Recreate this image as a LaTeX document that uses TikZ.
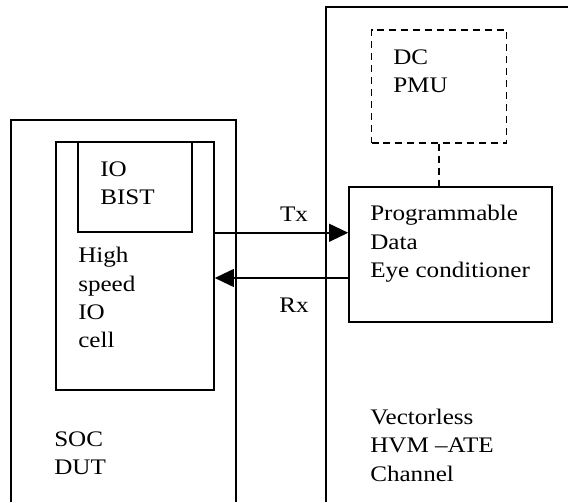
\documentclass[tikz,border=0pt]{standalone}
\usepackage{fontspec}
\setmainfont{Liberation Serif}[FakeStretch=1.13]
\usetikzlibrary{arrows.meta}

\tikzset{
    box/.style={draw, line width=1.1pt, inner sep=0pt},
    pmubox/.style={box, dash pattern=on 5pt off 3.5pt},
    boxtext/.style={anchor=base west, inner sep=0pt, align=left,
        font=\fontsize{15.8}{20.2}\selectfont},
    link/.style={line width=1.1pt, -{Triangle[length=0.48cm, width=0.45cm]}}
}

\begin{document}
\begin{tikzpicture}
    \useasboundingbox (0, 0) rectangle (14.2, 12.55);

    % The device under test, open at the bottom
    \draw[line width=1.1pt] (0.275, 0) -- (0.275, 9.55) -- (5.9, 9.55) -- (5.9, 0);
    \node[box, minimum width=3.95cm, minimum height=6.2cm] (cell) at (3.375, 5.9) {};
    \node[box, minimum width=2.85cm, minimum height=2.25cm] (bist) at (3.375, 7.875) {};

    % (text nodes sit on the baseline of their last line)
    \node[boxtext] (bisttext) at (2.5, 7.4375) {IO\\BIST};
    \node[boxtext] (celltext) at (1.95, 3.8525) {High\\speed\\IO\\cell};
    \node[boxtext] (duttext) at (1.35, 0.6875) {SOC\\DUT};

    % The tester channel, running off the right edge
    \draw[line width=1.1pt] (8.15, 0) -- (8.15, 12.375) -- (14.2, 12.375);
    \node[pmubox, minimum width=3.375cm, minimum height=2.825cm] (pmu) at (10.975, 10.3875) {};
    \node[box, minimum width=5.075cm, minimum height=3.375cm] (pec) at (11.2625, 6.1875) {};

    \node[boxtext] (pmutext) at (9.825, 10.2275) {DC\\PMU};
    \node[boxtext] (pectext) at (9.25, 5.61) {Programmable\\Data\\Eye conditioner};
    \node[boxtext] (atetext) at (9.25, 0.525) {Vectorless\\HVM –ATE\\Channel};

    % PMU hooked onto the conditioner
    \draw[line width=1.1pt, dash pattern=on 5pt off 3.5pt] (pmu.south) -- (pmu.south |- pec.north);

    % Data paths between the IO cell and the conditioner
    \coordinate (rxlevel) at (0, 5.6);
    \draw[link] (bist.south -| cell.east) -- (bist.south -| pec.west);
    \draw[link] (rxlevel -| pec.west) -- (rxlevel -| cell.east);

    \node[boxtext, anchor=base] (tx) at (7.35, 7.0) {Tx};
    \node[boxtext, anchor=base] (rx) at (7.35, 4.75) {Rx};

\end{tikzpicture}
\end{document}
